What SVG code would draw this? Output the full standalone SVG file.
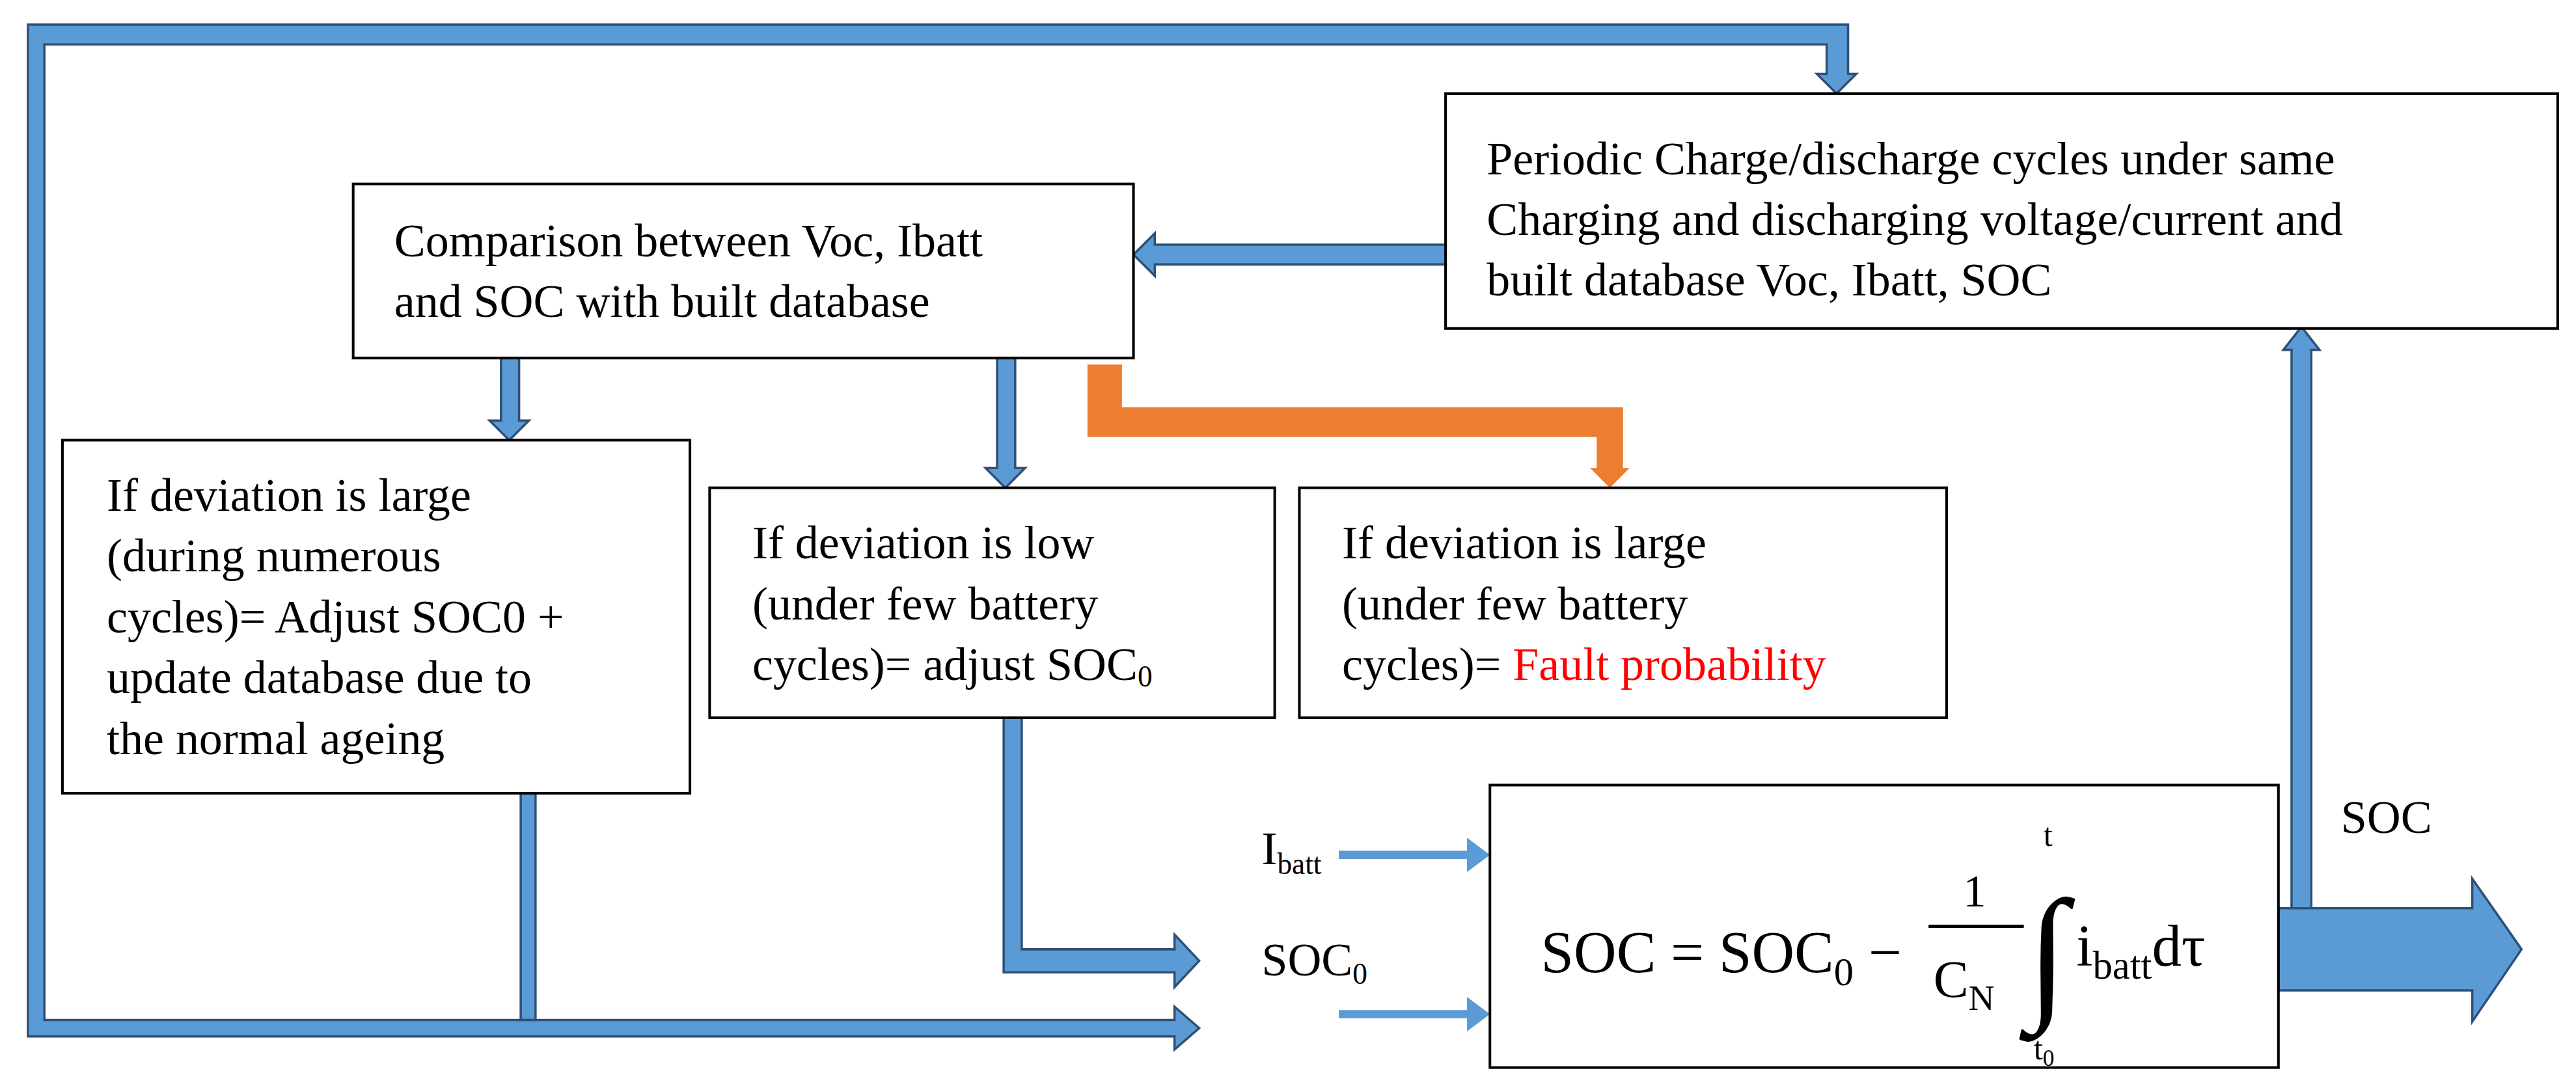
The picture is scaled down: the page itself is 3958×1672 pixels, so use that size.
<svg xmlns="http://www.w3.org/2000/svg" width="3958" height="1672" viewBox="0 0 3958 1672">
<style>
.bx{fill:#fff;stroke:#000;stroke-width:1.6}
.ar{fill:#5b9bd5;stroke:#2e5077;stroke-width:1.4}
.t{font-size:28.5px;fill:#000}
.f{fill:#000}
</style>
<rect width="3958" height="1672" fill="#fff"/>
<g transform="scale(2.524)">
<g id="connectors">
<path class="ar" d="M17,15 H1125 V45 H1130 L1118,57 L1106,45 H1112 V27 H27 V621 H715 V613 L730,626 L715,639 V631 H17 Z"/>
<rect class="ar" x="317" y="483" width="9" height="138"/>
<path class="ar" d="M880,149 H703 V142 L690,155 L703,168 V161 H880 Z"/>
<path class="ar" d="M305,218 H316 V256 H322 L310,268 L298,256 H305 Z"/>
<path class="ar" d="M607,218 H618 V285 H624 L612,297 L600,285 H607 Z"/>
<path fill="#ed7d31" d="M662,222 H683 V248 H988 V285 H992 L980,297 L968,285 H972 V266 H662 Z"/>
<path class="ar" d="M611,437 H622 V578 H715 V569 L730,585 L715,601 V592 H611 Z"/>
<path class="ar" d="M1395,555 V213 H1390 L1401,199 L1412,213 H1407 V555 Z"/>
<path class="ar" d="M1387,553 H1505 V535 L1535,578 L1505,622 V603 H1387 Z"/>
<g fill="#5b9bd5">
<rect x="815" y="518" width="80" height="5"/><polygon points="893,510 907,520.5 893,531"/>
<rect x="815" y="615" width="80" height="5"/><polygon points="893,607 907,617.5 893,628"/>
</g>
</g>
<g font-family="'Liberation Serif','Times New Roman','DejaVu Serif',serif">
<g id="periodic"><rect class="bx" x="880" y="57" width="677" height="143"/>
<text class="t" x="905" y="106">Periodic Charge/discharge cycles under same</text>
<text class="t" x="905" y="143">Charging and discharging voltage/current and</text>
<text class="t" x="905" y="180">built database Voc, Ibatt, SOC</text></g>
<g id="comparison"><rect class="bx" x="215" y="112" width="475" height="106"/>
<text class="t" x="240" y="156">Comparison between Voc, Ibatt</text>
<text class="t" x="240" y="193">and SOC with built database</text></g>
<g id="large-numerous"><rect class="bx" x="38" y="268" width="382" height="215"/>
<text class="t" x="65" y="311">If deviation is large</text>
<text class="t" x="65" y="348">(during numerous</text>
<text class="t" x="65" y="385">cycles)= Adjust SOC0 +</text>
<text class="t" x="65" y="422">update database due to</text>
<text class="t" x="65" y="459">the normal ageing</text></g>
<g id="low"><rect class="bx" x="432" y="297" width="344" height="140"/>
<text class="t" x="458" y="340">If deviation is low</text>
<text class="t" x="458" y="377">(under few battery</text>
<text class="t" x="458" y="414">cycles)= adjust SOC<tspan font-size="18" dy="4">0</tspan></text></g>
<g id="large-few"><rect class="bx" x="791" y="297" width="394" height="140"/>
<text class="t" x="817" y="340">If deviation is large</text>
<text class="t" x="817" y="377">(under few battery</text>
<text class="t" x="817" y="414">cycles)= <tspan fill="#ff0000">Fault probability</tspan></text></g>
<g id="formula"><rect class="bx" x="907" y="478" width="480" height="172"/>
<text class="f" font-size="36" x="938" y="592">SOC = SOC<tspan font-size="24" dy="8">0</tspan><tspan dy="-8"> −</tspan></text>
<text class="f" font-size="28" x="1195" y="552">1</text>
<line x1="1174" y1="564" x2="1232" y2="564" stroke="#000" stroke-width="2"/>
<text class="f" font-size="32" x="1177" y="607">C<tspan font-size="22" dy="8">N</tspan></text>
<text class="f" font-size="90" x="1234" y="610">∫</text>
<text class="f" font-size="20" x="1244" y="515">t</text>
<text class="f" font-size="20" x="1238" y="645">t<tspan font-size="14" dy="4">0</tspan></text>
<text class="f" font-size="36" x="1264" y="588">i<tspan font-size="24" dy="8">batt</tspan><tspan dy="-8">dτ</tspan></text></g>
<g id="labels">
<text class="t" x="768" y="526">I<tspan font-size="18" dy="6">batt</tspan></text>
<text class="t" x="768" y="594">SOC<tspan font-size="18" dy="5">0</tspan></text>
<text class="t" x="1425" y="507">SOC</text></g>
</g>
</g>
</svg>
